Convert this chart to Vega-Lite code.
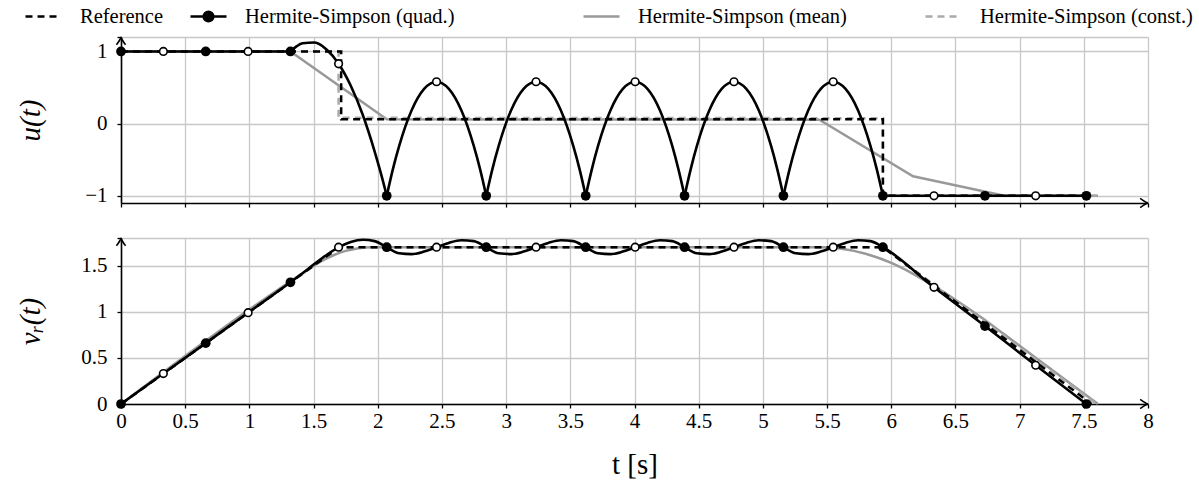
{
  "$schema": "https://vega.github.io/schema/vega-lite/v6.json",
  "padding": {"left": 16, "top": -3, "right": 10, "bottom": 5},
  "bounds": "flush",
  "spacing": 35,
  "config": {
    "font": "Liberation Serif, DejaVu Serif, serif",
    "view": {"stroke": null},
    "axis": {"domainColor": "black", "domainWidth": 1.6, "tickColor": "black", "tickWidth": 1.3, "tickSize": 4, "gridColor": "#c8c8c8", "gridWidth": 1.3, "labelFont": "Liberation Serif, DejaVu Serif, serif", "labelFontSize": 21, "labelColor": "black", "titleFont": "Liberation Serif, DejaVu Serif, serif", "titleFontSize": 29, "titleFontWeight": "normal", "titleColor": "black", "labelFlush": false, "labelOverlap": false},
    "legend": {"labelFont": "Liberation Serif, DejaVu Serif, serif", "labelColor": "black", "labelFontSize": 20.5, "labelOffset": 17, "padding": 0, "labelLimit": 500, "symbolStrokeWidth": 2.5, "symbolSize": 1296, "symbolType": "stroke"}
  },
  "datasets": {
    "uL": [
      {"series": "Hermite-Simpson (mean)", "t": 0, "u": 1},
      {"series": "Hermite-Simpson (mean)", "t": 1.32, "u": 1},
      {"series": "Hermite-Simpson (mean)", "t": 2.07, "u": 0.06},
      {"series": "Hermite-Simpson (mean)", "t": 5.44, "u": 0.055},
      {"series": "Hermite-Simpson (mean)", "t": 6.17, "u": -0.73},
      {"series": "Hermite-Simpson (mean)", "t": 6.88, "u": -1},
      {"series": "Hermite-Simpson (mean)", "t": 7.61, "u": -1},
      {"series": "Hermite-Simpson (const.)", "t": 0, "u": 1},
      {"series": "Hermite-Simpson (const.)", "t": 1.695, "u": 1},
      {"series": "Hermite-Simpson (const.)", "t": 1.695, "u": 0.08},
      {"series": "Hermite-Simpson (const.)", "t": 5.935, "u": 0.075},
      {"series": "Hermite-Simpson (const.)", "t": 5.935, "u": -1},
      {"series": "Hermite-Simpson (const.)", "t": 7.6, "u": -1},
      {"series": "Hermite-Simpson (quad.)", "g": 0, "t": 0, "u": 1},
      {"series": "Hermite-Simpson (quad.)", "g": 0, "t": 1.32, "u": 1},
      {"series": "Hermite-Simpson (quad.)", "g": 1, "t": 1.32, "u": 1},
      {"series": "Hermite-Simpson (quad.)", "g": 1, "t": 1.367, "u": 1.07},
      {"series": "Hermite-Simpson (quad.)", "g": 1, "t": 1.414, "u": 1.113},
      {"series": "Hermite-Simpson (quad.)", "g": 1, "t": 1.508, "u": 1.123},
      {"series": "Hermite-Simpson (quad.)", "g": 1, "t": 1.601, "u": 1.028},
      {"series": "Hermite-Simpson (quad.)", "g": 1, "t": 1.695, "u": 0.83},
      {"series": "Hermite-Simpson (quad.)", "g": 1, "t": 1.789, "u": 0.528},
      {"series": "Hermite-Simpson (quad.)", "g": 1, "t": 1.883, "u": 0.123},
      {"series": "Hermite-Simpson (quad.)", "g": 1, "t": 1.976, "u": -0.387},
      {"series": "Hermite-Simpson (quad.)", "g": 1, "t": 2.023, "u": -0.68},
      {"series": "Hermite-Simpson (quad.)", "g": 1, "t": 2.07, "u": -1},
      {"series": "Hermite-Simpson (quad.)", "g": 2, "t": 2.07, "u": -1},
      {"series": "Hermite-Simpson (quad.)", "g": 2, "t": 2.118, "u": -0.63},
      {"series": "Hermite-Simpson (quad.)", "g": 2, "t": 2.167, "u": -0.309},
      {"series": "Hermite-Simpson (quad.)", "g": 2, "t": 2.264, "u": 0.185},
      {"series": "Hermite-Simpson (quad.)", "g": 2, "t": 2.361, "u": 0.481},
      {"series": "Hermite-Simpson (quad.)", "g": 2, "t": 2.458, "u": 0.58},
      {"series": "Hermite-Simpson (quad.)", "g": 2, "t": 2.554, "u": 0.481},
      {"series": "Hermite-Simpson (quad.)", "g": 2, "t": 2.651, "u": 0.185},
      {"series": "Hermite-Simpson (quad.)", "g": 2, "t": 2.748, "u": -0.309},
      {"series": "Hermite-Simpson (quad.)", "g": 2, "t": 2.797, "u": -0.63},
      {"series": "Hermite-Simpson (quad.)", "g": 2, "t": 2.845, "u": -1},
      {"series": "Hermite-Simpson (quad.)", "g": 3, "t": 2.845, "u": -1},
      {"series": "Hermite-Simpson (quad.)", "g": 3, "t": 2.893, "u": -0.63},
      {"series": "Hermite-Simpson (quad.)", "g": 3, "t": 2.942, "u": -0.309},
      {"series": "Hermite-Simpson (quad.)", "g": 3, "t": 3.039, "u": 0.185},
      {"series": "Hermite-Simpson (quad.)", "g": 3, "t": 3.136, "u": 0.481},
      {"series": "Hermite-Simpson (quad.)", "g": 3, "t": 3.233, "u": 0.58},
      {"series": "Hermite-Simpson (quad.)", "g": 3, "t": 3.329, "u": 0.481},
      {"series": "Hermite-Simpson (quad.)", "g": 3, "t": 3.426, "u": 0.185},
      {"series": "Hermite-Simpson (quad.)", "g": 3, "t": 3.523, "u": -0.309},
      {"series": "Hermite-Simpson (quad.)", "g": 3, "t": 3.572, "u": -0.63},
      {"series": "Hermite-Simpson (quad.)", "g": 3, "t": 3.62, "u": -1},
      {"series": "Hermite-Simpson (quad.)", "g": 4, "t": 3.62, "u": -1},
      {"series": "Hermite-Simpson (quad.)", "g": 4, "t": 3.668, "u": -0.63},
      {"series": "Hermite-Simpson (quad.)", "g": 4, "t": 3.716, "u": -0.309},
      {"series": "Hermite-Simpson (quad.)", "g": 4, "t": 3.813, "u": 0.185},
      {"series": "Hermite-Simpson (quad.)", "g": 4, "t": 3.909, "u": 0.481},
      {"series": "Hermite-Simpson (quad.)", "g": 4, "t": 4.005, "u": 0.58},
      {"series": "Hermite-Simpson (quad.)", "g": 4, "t": 4.101, "u": 0.481},
      {"series": "Hermite-Simpson (quad.)", "g": 4, "t": 4.198, "u": 0.185},
      {"series": "Hermite-Simpson (quad.)", "g": 4, "t": 4.294, "u": -0.309},
      {"series": "Hermite-Simpson (quad.)", "g": 4, "t": 4.342, "u": -0.63},
      {"series": "Hermite-Simpson (quad.)", "g": 4, "t": 4.39, "u": -1},
      {"series": "Hermite-Simpson (quad.)", "g": 5, "t": 4.39, "u": -1},
      {"series": "Hermite-Simpson (quad.)", "g": 5, "t": 4.438, "u": -0.63},
      {"series": "Hermite-Simpson (quad.)", "g": 5, "t": 4.486, "u": -0.309},
      {"series": "Hermite-Simpson (quad.)", "g": 5, "t": 4.583, "u": 0.185},
      {"series": "Hermite-Simpson (quad.)", "g": 5, "t": 4.679, "u": 0.481},
      {"series": "Hermite-Simpson (quad.)", "g": 5, "t": 4.775, "u": 0.58},
      {"series": "Hermite-Simpson (quad.)", "g": 5, "t": 4.871, "u": 0.481},
      {"series": "Hermite-Simpson (quad.)", "g": 5, "t": 4.968, "u": 0.185},
      {"series": "Hermite-Simpson (quad.)", "g": 5, "t": 5.064, "u": -0.309},
      {"series": "Hermite-Simpson (quad.)", "g": 5, "t": 5.112, "u": -0.63},
      {"series": "Hermite-Simpson (quad.)", "g": 5, "t": 5.16, "u": -1},
      {"series": "Hermite-Simpson (quad.)", "g": 6, "t": 5.16, "u": -1},
      {"series": "Hermite-Simpson (quad.)", "g": 6, "t": 5.208, "u": -0.63},
      {"series": "Hermite-Simpson (quad.)", "g": 6, "t": 5.257, "u": -0.309},
      {"series": "Hermite-Simpson (quad.)", "g": 6, "t": 5.354, "u": 0.185},
      {"series": "Hermite-Simpson (quad.)", "g": 6, "t": 5.451, "u": 0.481},
      {"series": "Hermite-Simpson (quad.)", "g": 6, "t": 5.548, "u": 0.58},
      {"series": "Hermite-Simpson (quad.)", "g": 6, "t": 5.644, "u": 0.481},
      {"series": "Hermite-Simpson (quad.)", "g": 6, "t": 5.741, "u": 0.185},
      {"series": "Hermite-Simpson (quad.)", "g": 6, "t": 5.838, "u": -0.309},
      {"series": "Hermite-Simpson (quad.)", "g": 6, "t": 5.887, "u": -0.63},
      {"series": "Hermite-Simpson (quad.)", "g": 6, "t": 5.935, "u": -1},
      {"series": "Hermite-Simpson (quad.)", "g": 7, "t": 5.935, "u": -1},
      {"series": "Hermite-Simpson (quad.)", "g": 7, "t": 7.52, "u": -1},
      {"series": "Reference", "t": 0, "u": 1},
      {"series": "Reference", "t": 1.715, "u": 1},
      {"series": "Reference", "t": 1.715, "u": 0.06},
      {"series": "Reference", "t": 5.935, "u": 0.06},
      {"series": "Reference", "t": 5.935, "u": -1},
      {"series": "Reference", "t": 7.56, "u": -1}
    ],
    "uP": [
      {"k": "n", "t": 0, "u": 1}, {"k": "n", "t": 0.66, "u": 1}, {"k": "n", "t": 1.32, "u": 1},
      {"k": "n", "t": 2.07, "u": -1}, {"k": "n", "t": 2.845, "u": -1}, {"k": "n", "t": 3.62, "u": -1},
      {"k": "n", "t": 4.39, "u": -1}, {"k": "n", "t": 5.16, "u": -1}, {"k": "n", "t": 5.935, "u": -1},
      {"k": "n", "t": 6.73, "u": -1}, {"k": "n", "t": 7.52, "u": -1},
      {"k": "m", "t": 0.33, "u": 1}, {"k": "m", "t": 0.99, "u": 1}, {"k": "m", "t": 1.695, "u": 0.83},
      {"k": "m", "t": 2.458, "u": 0.58}, {"k": "m", "t": 3.233, "u": 0.58}, {"k": "m", "t": 4.005, "u": 0.58},
      {"k": "m", "t": 4.775, "u": 0.58}, {"k": "m", "t": 5.548, "u": 0.58}, {"k": "m", "t": 6.333, "u": -1},
      {"k": "m", "t": 7.125, "u": -1}
    ],
    "vL": [
      {"series": "Hermite-Simpson (mean)", "t": 0, "v": 0},
      {"series": "Hermite-Simpson (mean)", "t": 1.45, "v": 1.45},
      {"series": "Hermite-Simpson (mean)", "t": 1.55, "v": 1.54},
      {"series": "Hermite-Simpson (mean)", "t": 1.65, "v": 1.61},
      {"series": "Hermite-Simpson (mean)", "t": 1.75, "v": 1.66},
      {"series": "Hermite-Simpson (mean)", "t": 1.85, "v": 1.69},
      {"series": "Hermite-Simpson (mean)", "t": 1.95, "v": 1.7},
      {"series": "Hermite-Simpson (mean)", "t": 2.07, "v": 1.7},
      {"series": "Hermite-Simpson (mean)", "t": 5.44, "v": 1.7},
      {"series": "Hermite-Simpson (mean)", "t": 5.6, "v": 1.686},
      {"series": "Hermite-Simpson (mean)", "t": 5.8, "v": 1.63},
      {"series": "Hermite-Simpson (mean)", "t": 6.0, "v": 1.53},
      {"series": "Hermite-Simpson (mean)", "t": 6.17, "v": 1.412},
      {"series": "Hermite-Simpson (mean)", "t": 6.33, "v": 1.281},
      {"series": "Hermite-Simpson (mean)", "t": 6.5, "v": 1.131},
      {"series": "Hermite-Simpson (mean)", "t": 6.7, "v": 0.94},
      {"series": "Hermite-Simpson (mean)", "t": 6.88, "v": 0.755},
      {"series": "Hermite-Simpson (mean)", "t": 7.13, "v": 0.497},
      {"series": "Hermite-Simpson (mean)", "t": 7.4, "v": 0.218},
      {"series": "Hermite-Simpson (mean)", "t": 7.61, "v": 0},
      {"series": "Hermite-Simpson (const.)", "t": 0, "v": 0},
      {"series": "Hermite-Simpson (const.)", "t": 1.695, "v": 1.695},
      {"series": "Hermite-Simpson (const.)", "t": 5.935, "v": 1.7},
      {"series": "Hermite-Simpson (const.)", "t": 7.6, "v": 0},
      {"series": "Hermite-Simpson (quad.)", "t": 0, "v": 0},
      {"series": "Hermite-Simpson (quad.)", "t": 0.33, "v": 0.33},
      {"series": "Hermite-Simpson (quad.)", "t": 0.66, "v": 0.66},
      {"series": "Hermite-Simpson (quad.)", "t": 0.99, "v": 0.99},
      {"series": "Hermite-Simpson (quad.)", "t": 1.32, "v": 1.32},
      {"series": "Hermite-Simpson (quad.)", "t": 1.414, "v": 1.418},
      {"series": "Hermite-Simpson (quad.)", "t": 1.508, "v": 1.52},
      {"series": "Hermite-Simpson (quad.)", "t": 1.601, "v": 1.616},
      {"series": "Hermite-Simpson (quad.)", "t": 1.695, "v": 1.698},
      {"series": "Hermite-Simpson (quad.)", "t": 1.789, "v": 1.756},
      {"series": "Hermite-Simpson (quad.)", "t": 1.883, "v": 1.781},
      {"series": "Hermite-Simpson (quad.)", "t": 1.976, "v": 1.766},
      {"series": "Hermite-Simpson (quad.)", "t": 2.07, "v": 1.7},
      {"series": "Hermite-Simpson (quad.)", "t": 2.167, "v": 1.634},
      {"series": "Hermite-Simpson (quad.)", "t": 2.264, "v": 1.625},
      {"series": "Hermite-Simpson (quad.)", "t": 2.361, "v": 1.653},
      {"series": "Hermite-Simpson (quad.)", "t": 2.458, "v": 1.7},
      {"series": "Hermite-Simpson (quad.)", "t": 2.554, "v": 1.747},
      {"series": "Hermite-Simpson (quad.)", "t": 2.651, "v": 1.775},
      {"series": "Hermite-Simpson (quad.)", "t": 2.748, "v": 1.766},
      {"series": "Hermite-Simpson (quad.)", "t": 2.845, "v": 1.7},
      {"series": "Hermite-Simpson (quad.)", "t": 2.942, "v": 1.634},
      {"series": "Hermite-Simpson (quad.)", "t": 3.039, "v": 1.625},
      {"series": "Hermite-Simpson (quad.)", "t": 3.136, "v": 1.653},
      {"series": "Hermite-Simpson (quad.)", "t": 3.233, "v": 1.7},
      {"series": "Hermite-Simpson (quad.)", "t": 3.329, "v": 1.747},
      {"series": "Hermite-Simpson (quad.)", "t": 3.426, "v": 1.775},
      {"series": "Hermite-Simpson (quad.)", "t": 3.523, "v": 1.766},
      {"series": "Hermite-Simpson (quad.)", "t": 3.62, "v": 1.7},
      {"series": "Hermite-Simpson (quad.)", "t": 3.716, "v": 1.634},
      {"series": "Hermite-Simpson (quad.)", "t": 3.813, "v": 1.625},
      {"series": "Hermite-Simpson (quad.)", "t": 3.909, "v": 1.653},
      {"series": "Hermite-Simpson (quad.)", "t": 4.005, "v": 1.7},
      {"series": "Hermite-Simpson (quad.)", "t": 4.101, "v": 1.747},
      {"series": "Hermite-Simpson (quad.)", "t": 4.198, "v": 1.775},
      {"series": "Hermite-Simpson (quad.)", "t": 4.294, "v": 1.766},
      {"series": "Hermite-Simpson (quad.)", "t": 4.39, "v": 1.7},
      {"series": "Hermite-Simpson (quad.)", "t": 4.486, "v": 1.634},
      {"series": "Hermite-Simpson (quad.)", "t": 4.583, "v": 1.625},
      {"series": "Hermite-Simpson (quad.)", "t": 4.679, "v": 1.653},
      {"series": "Hermite-Simpson (quad.)", "t": 4.775, "v": 1.7},
      {"series": "Hermite-Simpson (quad.)", "t": 4.871, "v": 1.747},
      {"series": "Hermite-Simpson (quad.)", "t": 4.968, "v": 1.775},
      {"series": "Hermite-Simpson (quad.)", "t": 5.064, "v": 1.766},
      {"series": "Hermite-Simpson (quad.)", "t": 5.16, "v": 1.7},
      {"series": "Hermite-Simpson (quad.)", "t": 5.257, "v": 1.634},
      {"series": "Hermite-Simpson (quad.)", "t": 5.354, "v": 1.625},
      {"series": "Hermite-Simpson (quad.)", "t": 5.451, "v": 1.653},
      {"series": "Hermite-Simpson (quad.)", "t": 5.548, "v": 1.7},
      {"series": "Hermite-Simpson (quad.)", "t": 5.644, "v": 1.747},
      {"series": "Hermite-Simpson (quad.)", "t": 5.741, "v": 1.775},
      {"series": "Hermite-Simpson (quad.)", "t": 5.838, "v": 1.766},
      {"series": "Hermite-Simpson (quad.)", "t": 5.935, "v": 1.7},
      {"series": "Hermite-Simpson (quad.)", "t": 6.333, "v": 1.265},
      {"series": "Hermite-Simpson (quad.)", "t": 6.73, "v": 0.845},
      {"series": "Hermite-Simpson (quad.)", "t": 7.125, "v": 0.42},
      {"series": "Hermite-Simpson (quad.)", "t": 7.52, "v": 0},
      {"series": "Reference", "t": 0, "v": 0},
      {"series": "Reference", "t": 1.7, "v": 1.7},
      {"series": "Reference", "t": 5.935, "v": 1.7},
      {"series": "Reference", "t": 7.56, "v": 0}
    ],
    "vP": [
      {"k": "n", "t": 0, "v": 0}, {"k": "n", "t": 0.66, "v": 0.66}, {"k": "n", "t": 1.32, "v": 1.32},
      {"k": "n", "t": 2.07, "v": 1.7}, {"k": "n", "t": 2.845, "v": 1.7}, {"k": "n", "t": 3.62, "v": 1.7},
      {"k": "n", "t": 4.39, "v": 1.7}, {"k": "n", "t": 5.16, "v": 1.7}, {"k": "n", "t": 5.935, "v": 1.7},
      {"k": "n", "t": 6.73, "v": 0.845}, {"k": "n", "t": 7.52, "v": 0},
      {"k": "m", "t": 0.33, "v": 0.33}, {"k": "m", "t": 0.99, "v": 0.99}, {"k": "m", "t": 1.695, "v": 1.7},
      {"k": "m", "t": 2.458, "v": 1.7}, {"k": "m", "t": 3.233, "v": 1.7}, {"k": "m", "t": 4.005, "v": 1.7},
      {"k": "m", "t": 4.775, "v": 1.7}, {"k": "m", "t": 5.548, "v": 1.7}, {"k": "m", "t": 6.333, "v": 1.265},
      {"k": "m", "t": 7.125, "v": 0.42}
    ]
  },
  "vconcat": [
    {
      "width": 1027,
      "height": 166,
      "layer": [
        {
          "data": {"name": "uL"},
          "encoding": {
            "x": {"field": "t", "type": "quantitative", "scale": {"domain": [0, 8], "nice": false, "zero": false}, "axis": {"values": [0, 0.5, 1, 1.5, 2, 2.5, 3, 3.5, 4, 4.5, 5, 5.5, 6, 6.5, 7, 7.5, 8], "labels": false, "title": null, "grid": true}},
            "y": {"field": "u", "type": "quantitative", "scale": {"domain": [-1.1, 1.2], "nice": false, "zero": false}, "axis": {"values": [-1, 0, 1, 1.2], "format": "~g", "labelExpr": "datum.value > 1.1 ? '' : datum.label", "title": "u(t)", "titleFontStyle": "italic", "titleX": -91, "titleY": 83, "titleAngle": -90, "titleAlign": "center", "titleBaseline": "middle", "labelPadding": 10, "grid": true}},
            "order": {"value": null}
          },
          "resolve": {"scale": {"color": "independent"}, "legend": {"color": "independent"}},
          "layer": [
            {"transform": [{"filter": "datum.series === 'Hermite-Simpson (mean)'"}], "mark": {"type": "line", "strokeWidth": 2.5},
             "encoding": {"color": {"field": "series", "type": "nominal", "scale": {"domain": ["Hermite-Simpson (mean)"], "range": ["#999999"]}, "legend": {"title": null, "orient": "none", "legendX": 461, "legendY": -40}}}},
            {"transform": [{"filter": "datum.series === 'Hermite-Simpson (const.)'"}], "mark": {"type": "line", "strokeWidth": 2.5, "strokeDash": [7, 5]},
             "encoding": {"color": {"field": "series", "type": "nominal", "scale": {"domain": ["Hermite-Simpson (const.)"], "range": ["#aaaaaa"]}, "legend": {"title": null, "orient": "none", "legendX": 803, "legendY": -40, "symbolDash": [7, 5]}}}},
            {"transform": [{"filter": "datum.series === 'Hermite-Simpson (quad.)'"}], "mark": {"type": "line", "strokeWidth": 2.6, "interpolate": "monotone"},
             "encoding": {"detail": {"field": "g", "type": "nominal"}, "color": {"field": "series", "type": "nominal", "scale": {"domain": ["Hermite-Simpson (quad.)"], "range": ["#000000"]}, "legend": {"title": null, "orient": "none", "legendX": 68, "legendY": -40, "symbolType": "M-1,0H1M0.27,0A0.27,0.27,0,1,1,-0.27,0A0.27,0.27,0,1,1,0.27,0Z", "encode": {"symbols": {"update": {"fill": {"value": "black"}}}}}}}},
            {"transform": [{"filter": "datum.series === 'Reference'"}], "mark": {"type": "line", "strokeWidth": 2.5, "strokeDash": [7, 5]},
             "encoding": {"color": {"field": "series", "type": "nominal", "scale": {"domain": ["Reference"], "range": ["#000000"]}, "legend": {"title": null, "orient": "none", "legendX": -97, "legendY": -40, "symbolDash": [7, 5]}}}}
          ]
        },
        {
          "data": {"name": "uP"},
          "encoding": {"x": {"field": "t", "type": "quantitative"}, "y": {"field": "u", "type": "quantitative"}},
          "layer": [
            {"transform": [{"filter": "datum.k === 'n'"}], "mark": {"type": "point", "filled": true, "color": "black", "size": 95, "opacity": 1}},
            {"transform": [{"filter": "datum.k === 'm'"}], "mark": {"type": "point", "filled": false, "fill": "white", "stroke": "black", "strokeWidth": 1.6, "size": 58, "opacity": 1}}
          ]
        },
        {
          "data": {"values": [{}]},
          "mark": {"type": "point", "shape": "M-1.2,-0.7Q-0.4,-0.1,0,0Q-0.4,0.1,-1.2,0.7", "filled": false, "fill": null, "stroke": "black", "strokeWidth": 1.6, "size": 170, "opacity": 1},
          "encoding": {"x": {"datum": 8, "type": "quantitative"}, "y": {"datum": -1.1, "type": "quantitative"}}
        },
        {
          "data": {"values": [{}]},
          "mark": {"type": "point", "shape": "M-0.7,1.2Q-0.1,0.4,0,0Q0.1,0.4,0.7,1.2", "filled": false, "fill": null, "stroke": "black", "strokeWidth": 1.6, "size": 170, "opacity": 1},
          "encoding": {"x": {"datum": 0, "type": "quantitative"}, "y": {"datum": 1.2, "type": "quantitative"}}
        }
      ]
    },
    {
      "width": 1027,
      "height": 166,
      "layer": [
        {
          "data": {"name": "vL"},
          "encoding": {
            "x": {"field": "t", "type": "quantitative", "scale": {"domain": [0, 8], "nice": false, "zero": false}, "axis": {"values": [0, 0.5, 1, 1.5, 2, 2.5, 3, 3.5, 4, 4.5, 5, 5.5, 6, 6.5, 7, 7.5, 8], "format": "~g", "title": "t [s]", "titlePadding": 19, "labelPadding": 2, "grid": true}},
            "y": {"field": "v", "type": "quantitative", "scale": {"domain": [0, 1.8], "nice": false, "zero": false}, "axis": {"values": [0, 0.5, 1, 1.5, 1.8], "format": "~g", "labelExpr": "datum.value > 1.7 ? '' : datum.label", "title": "vᵣ(t)", "titleFontStyle": "italic", "titleX": -91, "titleY": 83, "titleAngle": -90, "titleAlign": "center", "titleBaseline": "middle", "labelPadding": 10, "grid": true}},
            "order": {"value": null}
          },
          "layer": [
            {"transform": [{"filter": "datum.series === 'Hermite-Simpson (mean)'"}], "mark": {"type": "line", "color": "#999999", "strokeWidth": 2.5, "interpolate": "monotone"}},
            {"transform": [{"filter": "datum.series === 'Hermite-Simpson (const.)'"}], "mark": {"type": "line", "color": "#aaaaaa", "strokeWidth": 2.5, "strokeDash": [7, 5]}},
            {"transform": [{"filter": "datum.series === 'Hermite-Simpson (quad.)'"}], "mark": {"type": "line", "color": "#000000", "strokeWidth": 2.6, "interpolate": "monotone"}},
            {"transform": [{"filter": "datum.series === 'Reference'"}], "mark": {"type": "line", "color": "#000000", "strokeWidth": 2.5, "strokeDash": [7, 5]}}
          ]
        },
        {
          "data": {"name": "vP"},
          "encoding": {"x": {"field": "t", "type": "quantitative"}, "y": {"field": "v", "type": "quantitative"}},
          "layer": [
            {"transform": [{"filter": "datum.k === 'n'"}], "mark": {"type": "point", "filled": true, "color": "black", "size": 95, "opacity": 1}},
            {"transform": [{"filter": "datum.k === 'm'"}], "mark": {"type": "point", "filled": false, "fill": "white", "stroke": "black", "strokeWidth": 1.6, "size": 58, "opacity": 1}}
          ]
        },
        {
          "data": {"values": [{}]},
          "mark": {"type": "point", "shape": "M-1.2,-0.7Q-0.4,-0.1,0,0Q-0.4,0.1,-1.2,0.7", "filled": false, "fill": null, "stroke": "black", "strokeWidth": 1.6, "size": 170, "opacity": 1},
          "encoding": {"x": {"datum": 8, "type": "quantitative"}, "y": {"datum": 0, "type": "quantitative"}}
        },
        {
          "data": {"values": [{}]},
          "mark": {"type": "point", "shape": "M-0.7,1.2Q-0.1,0.4,0,0Q0.1,0.4,0.7,1.2", "filled": false, "fill": null, "stroke": "black", "strokeWidth": 1.6, "size": 170, "opacity": 1},
          "encoding": {"x": {"datum": 0, "type": "quantitative"}, "y": {"datum": 1.8, "type": "quantitative"}}
        }
      ]
    }
  ]
}
